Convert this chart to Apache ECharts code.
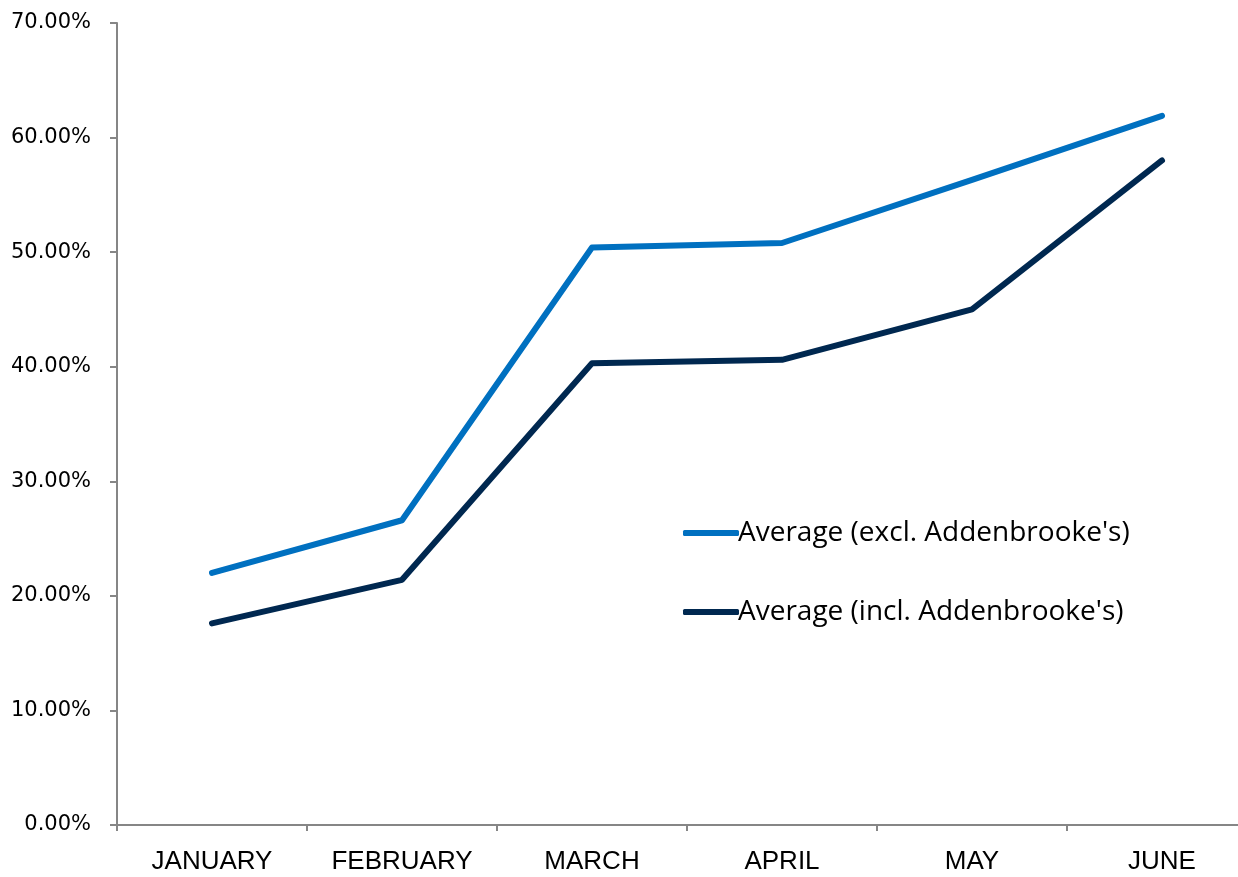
<!DOCTYPE html>
<html>
<head>
<meta charset="utf-8">
<script src="https://cdn.jsdelivr.net/npm/echarts@6/dist/echarts.min.js"></script>
<style>
html,body{margin:0;padding:0;background:#fff;overflow:hidden;}
#c{width:1260px;height:877px;}
</style>
</head>
<body>
<div id="c"></div>
<script>
const categories = ['JANUARY','FEBRUARY','MARCH','APRIL','MAY','JUNE'];
const excl = [22.0, 26.6, 50.4, 50.8, 56.3, 61.9];
const incl = [17.6, 21.4, 40.3, 40.6, 45.0, 58.0];
const seriesNames = ["Average (excl. Addenbrooke's)", "Average (incl. Addenbrooke's)"];

const chart = echarts.init(document.getElementById('c'));
chart.setOption({
  backgroundColor: '#ffffff',
  animation: false,
  grid: {left: 117, right: 3, top: 23, bottom: 52, containLabel: false},
  legend: {
    orient: 'vertical',
    left: 678,
    top: 514,
    itemWidth: 56,
    itemHeight: 6,
    itemGap: 51,
    icon: 'roundRect',
    textStyle: {fontFamily: 'Open Sans', fontSize: 28, color: '#000', padding: [0,0,0,-6]},
    data: seriesNames
  },
  xAxis: {
    type: 'category',
    data: categories,
    boundaryGap: true,
    axisLine: {lineStyle: {color: '#868686', width: 2}},
    axisTick: {show: true, length: 6, lineStyle: {color: '#868686', width: 2}},
    axisLabel: {fontFamily: 'Liberation Sans', fontSize: 26, color: '#000', margin: 24},
    splitLine: {show: false}
  },
  yAxis: {
    type: 'value',
    min: 0, max: 70, interval: 10,
    axisLine: {show: true, lineStyle: {color: '#868686', width: 2}},
    axisTick: {show: true, length: 7, lineStyle: {color: '#868686', width: 2}},
    axisLabel: {fontFamily: 'DejaVu Sans', fontSize: 21, color: '#000', margin: 26,
      formatter: v => v.toFixed(2) + '%'},
    splitLine: {show: false}
  },
  series: [
    {name: seriesNames[0], type: 'line', data: excl, showSymbol: false, symbol: 'none',
     lineStyle: {color: '#0070C0', width: 6, cap: 'round', join: 'round'}, itemStyle: {color: '#0070C0'}},
    {name: seriesNames[1], type: 'line', data: incl, showSymbol: false, symbol: 'none',
     lineStyle: {color: '#002850', width: 6, cap: 'round', join: 'round'}, itemStyle: {color: '#002850'}}
  ]
});
</script>
</body>
</html>
